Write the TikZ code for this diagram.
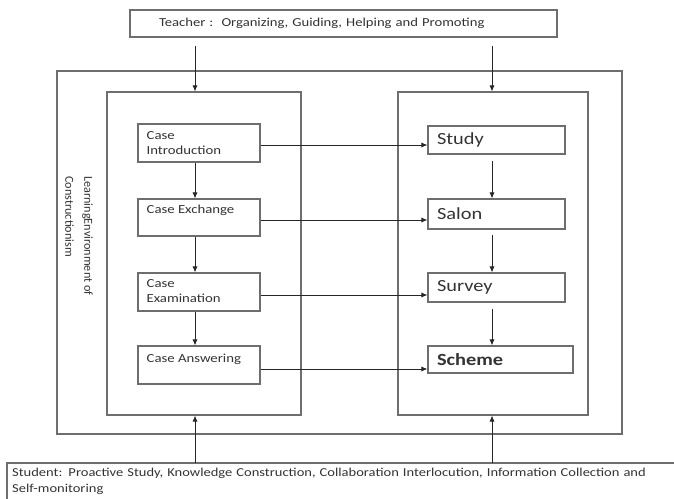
\documentclass[tikz,border=0pt]{standalone}
\usepackage{fontspec}
\setmainfont{Carlito}[FakeStretch=1.2]
\newfontfamily\plainfont{Carlito}
\usetikzlibrary{arrows.meta}
\definecolor{linegray}{HTML}{6E6E6E}
\definecolor{txtgray}{HTML}{333333}
\begin{document}
\begin{tikzpicture}[x=1pt,y=-1pt,
  box/.style={draw=linegray, line width=1.1pt, inner sep=0pt},
  cbox/.style={box, minimum width=122pt, minimum height=38pt},
  rbox/.style={box, minimum height=29pt, inner xsep=9pt, text width=119pt, align=left,
     text=txtgray, font=\fontsize{17}{19}\selectfont},
  ctext/.style={anchor=north west, inner sep=0pt, align=left, text=txtgray,
     font=\fontsize{12.3}{15}\selectfont},
  arr/.style={draw=black!85, line width=0.8pt, -{Latex[length=6pt,width=5pt]}}]
\useasboundingbox (0,0) rectangle (674,498);

% frames
\node[box, minimum width=565pt, minimum height=363pt] (outer) at (339.5,252.5) {};
\node[box, minimum width=194pt, minimum height=323pt] (inL) at (204,253.5) {};
\node[box, minimum width=190pt, minimum height=323pt] (inR) at (493,253.5) {};

% teacher
\node[box, inner xsep=29pt, text width=369pt, minimum height=27pt, align=left,
  text=txtgray, font=\fontsize{12.2}{14}\selectfont] (teacher) at (343.5,23.5)
  {Teacher :\ \ Organizing, Guiding, Helping and Promoting};

% rotated label
\node[rotate=-90, anchor=north west, inner sep=0pt, align=left, text=txtgray,
  font=\plainfont\fontsize{12.2}{19}\selectfont] (envlbl) at (93,176)
  {LearningEnvironment of\\Constructionism};

% left column boxes
\node[cbox] (intro) at (199,143) {};
\node[cbox, minimum height=37pt] (exch) at (199,217.5) {};
\node[cbox] (exam) at (199,292) {};
\node[cbox] (ans) at (199,365) {};
\node[ctext] (introT) at ([xshift=9pt,yshift=-8pt]intro.north west) {Case\\Introduction};
\node[ctext] (exchT) at ([xshift=9pt,yshift=-6.5pt]exch.north west) {Case Exchange};
\node[ctext] (examT) at ([xshift=9pt,yshift=-7pt]exam.north west) {Case\\Examination};
\node[ctext] (ansT) at ([xshift=9pt,yshift=-8pt]ans.north west) {Case Answering};

% right column boxes
\node[rbox, minimum height=28pt] (study) at (496.5,140) {Study};
\node[rbox, minimum height=30pt] (salon) at (496.5,214) {Salon};
\node[rbox] (survey) at (496.5,287.5) {Survey};
\node[rbox, minimum height=27pt, text width=127pt] (scheme) at (500.5,359.5) {\bfseries Scheme};

% student
\node[anchor=north west, inner xsep=5pt, inner ysep=5pt, text width=657pt, align=left,
  text=txtgray, font=\fontsize{12.1}{16}\selectfont] (student) at (7,463)
  {Student: Proactive Study, Knowledge Construction, Collaboration Interlocution, Information Collection and\\Self-monitoring};
\draw[box] (student.north east) -- (student.north west) -- (student.south west);

% column x positions
\coordinate (xL) at (195,0);
\coordinate (xR) at (492,0);

% teacher arrows
\draw[arr] ([yshift=-8pt]teacher.south -| xL) -- (inL.north -| xL);
\draw[arr] ([yshift=-8pt]teacher.south -| xR) -- (inR.north -| xR);

% left vertical
\draw[arr] (intro.south -| xL) -- (exch.north -| xL);
\draw[arr] (exch.south -| xL) -- (exam.north -| xL);
\draw[arr] (exam.south -| xL) -- (ans.north -| xL);

% right vertical
\draw[arr] ([yshift=-6pt]study.south -| xR) -- (salon.north -| xR);
\draw[arr] ([yshift=-5pt]salon.south -| xR) -- (survey.north -| xR);
\draw[arr] ([yshift=-6pt]survey.south -| xR) -- (scheme.north -| xR);

% horizontal
\coordinate (hA) at ([yshift=-2pt]intro.east);
\coordinate (hB) at ([yshift=-2.5pt]exch.east);
\coordinate (hC) at ([yshift=-3pt]exam.east);
\coordinate (hD) at ([yshift=-4pt]ans.east);
\draw[arr] (hA) -- (hA -| study.west);
\draw[arr] (hB) -- (hB -| salon.west);
\draw[arr] (hC) -- (hC -| survey.west);
\draw[arr] (hD) -- (hD -| scheme.west);

% student arrows
\draw[arr] (student.north -| xL) -- (inL.south -| xL);
\draw[arr] (student.north -| xR) -- (inR.south -| xR);
\end{tikzpicture}
\end{document}
